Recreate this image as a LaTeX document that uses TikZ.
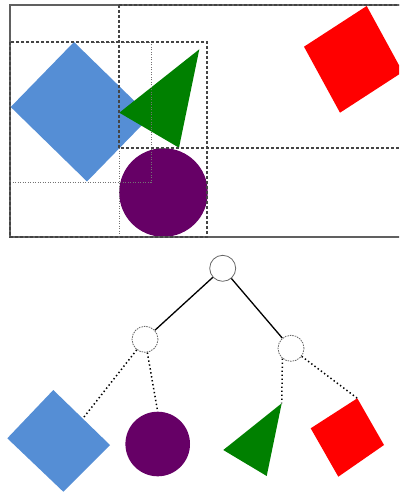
\documentclass[tikz,border=0pt]{standalone}
\usetikzlibrary{calc}
\definecolor{cblue}{HTML}{558ED5}
\definecolor{cgreen}{HTML}{008000}
\definecolor{cpurple}{HTML}{660066}
\definecolor{cred}{HTML}{FF0000}
\definecolor{boxgray}{HTML}{444444}
\tikzset{
  rootbox/.style={draw=boxgray!85, line width=1.1pt},
  nodebox/.style={draw=boxgray, line width=1.2pt, dash pattern=on 3pt off 2pt},
  leafbox/.style={draw=boxgray!75, line width=0.9pt, dash pattern=on 1pt off 1.5pt},
  treenode/.style={circle, draw=gray!80!black, fill=white, line width=0.8pt, minimum size=26pt, inner sep=0pt},
  midnode/.style={treenode, dash pattern=on 1.5pt off 1pt},
  solidedge/.style={draw=black, line width=1.3pt},
  dotedge/.style={draw=black, line width=1.5pt, dash pattern=on 1.4pt off 2.6pt},
}
\begin{document}
\begin{tikzpicture}[x=1pt,y=-1pt]
\useasboundingbox (0,0) rectangle (399,492);
\clip (0,0) rectangle (399,492);
% ---------- top: spatial layout ----------
\fill[cblue] (74,42) -- (10.7,107) -- (87,181.5) -- (150.3,116.5) -- cycle;
\fill[cgreen] (119.3,112.7) -- (199.3,49.3) -- (179,147.7) -- cycle;
\fill[cpurple] (163.5,192.5) circle (44.3);
\fill[cred] (366.7,6) -- (304,46.7) -- (340,112.7) -- (402.7,72) -- cycle;
% bounding boxes
\draw[leafbox] (10,42) rectangle (151,182);
\draw[leafbox] (119,148) -- (119,237);
\draw[rootbox] (10,5) rectangle (420,237);
\draw[nodebox] (10,42) rectangle (207,237);
\draw[nodebox] (119,5) rectangle (420,148);
% ---------- bottom: tree ----------
\node[treenode] (root) at (222.7,268.3) {};
\node[midnode] (mL) at (145,339.3) {};
\node[midnode] (mR) at (291,348.3) {};
\draw[solidedge] (root) -- (mL);
\draw[solidedge] (root) -- (mR);
% leaves
\coordinate (bT) at (53.3,390);
\coordinate (bL) at (7.3,438.3);
\coordinate (bB) at (63.3,491.7);
\coordinate (bR) at (110,445);
\fill[cblue] (bT) -- (bL) -- (bB) -- (bR) -- cycle;
\coordinate (blueEnd) at ($(bT)!0.52!(bR)$);
\coordinate (purpleC) at (157.7,444);
\fill[cpurple] (purpleC) circle (32.3);
\coordinate (purpleEnd) at (157.4,410);
\coordinate (gA) at (223.3,450);
\coordinate (gTop) at (281.7,403.3);
\coordinate (gC) at (266.7,476);
\fill[cgreen] (gA) -- (gTop) -- (gC) -- cycle;
\coordinate (rT) at (357.3,398.3);
\coordinate (rL) at (310.7,428.3);
\coordinate (rB) at (338.3,476.7);
\coordinate (rR) at (384,445);
\fill[cred] (rT) -- (rL) -- (rB) -- (rR) -- cycle;
\draw[dotedge] (mL) -- (blueEnd);
\draw[dotedge] (mL.-80) -- (purpleEnd);
\draw[dotedge] (mR.-130) -- (gTop);
\draw[dotedge] (mR) -- (rT);
\end{tikzpicture}
\end{document}
